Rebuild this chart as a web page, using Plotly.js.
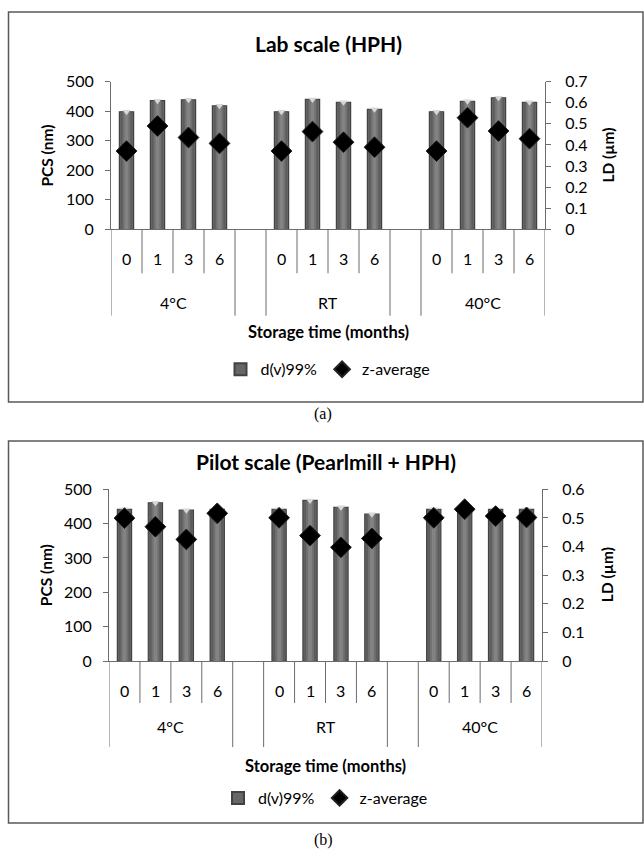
<!DOCTYPE html>
<html>
<head>
<meta charset="utf-8">
<script src="https://cdn.plot.ly/plotly-3.0.1.min.js"></script>
<style>
html,body{margin:0;padding:0;background:#fff;}
#chart{width:644px;height:852px;}
</style>
</head>
<body>
<div id="chart"></div>
<script>
// ---------- data ----------
const groups = ['4°C', 'RT', '40°C'];
const months = ['0', '1', '3', '6'];

// Panel (a) Lab scale (HPH)
const titleA = 'Lab scale (HPH)';
const ldA = [0.557, 0.610, 0.614, 0.586,   0.557, 0.616, 0.602, 0.569,   0.557, 0.607, 0.624, 0.602]; // d(v)99% (µm)
const pcsA = [265, 350, 311, 291,   265, 331, 295, 278,   265, 378, 333, 307];                   // z-average (nm)

// Panel (b) Pilot scale (Pearlmill + HPH)
const titleB = 'Pilot scale (Pearlmill + HPH)';
const ldB = [0.530, 0.553, 0.527, 0.530,   0.530, 0.561, 0.537, 0.513,   0.530, 0.530, 0.530, 0.530];
const pcsB = [416, 391, 354, 430,   417, 365, 331, 357,   417, 442, 422, 418];

const seriesNames = ['d(v)99%', 'z-average'];
const xTitle = 'Storage time (months)';
const yLeftTitle = 'PCS (nm)';
const yRightTitle = 'LD (µm)';

// ---------- helpers ----------
const W = 644, H = 852;
const px = p => p / W;
const py = p => 1 - p / H;
const slot = months.length + 1;                    // one blank category between groups
const nCat = groups.length * slot - 1;
const xs = [];
groups.forEach((g, gi) => months.forEach((m, mi) => xs.push(gi * slot + mi + 0.5)));

const FONT = 'Lato, "Open Sans", sans-serif';
const AXC = '#6b6b6b';
const TXT = 16;

const panels = [
  {title: titleA, ld: ldA, pcs: pcsA, ldMax: 0.7, ldDtick: 0.1,
   x0: 111, x1: 545, yTop: 81.7, yBot: 229.3, titleY: 44,
   mOff: 29, shortOff: 44, gOff: 72.7, longOff: 86.4, stOff: 102.7, lgOff: 140,
   frame: [8.5, 12, 643, 402], cap: '(a)', capY: 414},
  {title: titleB, ld: ldB, pcs: pcsB, ldMax: 0.6, ldDtick: 0.1,
   x0: 109, x1: 542, yTop: 489.3, yBot: 661, titleY: 461,
   mOff: 29, shortOff: 42, gOff: 65, longOff: 86, stOff: 105, lgOff: 137,
   frame: [8.5, 441, 643, 823], cap: '(b)', capY: 840}
];

const data = [];
const layout = {
  width: W, height: H,
  margin: {l: 0, r: 0, t: 0, b: 0},
  paper_bgcolor: '#fff', plot_bgcolor: 'rgba(0,0,0,0)',
  barmode: 'overlay',
  showlegend: true,
  font: {family: FONT, size: TXT, color: '#000'},
  annotations: [], shapes: []
};

panels.forEach((P, i) => {
  const k = i === 0 ? '' : '2';
  const yBase = i === 0 ? 'y' : 'y3';
  const yOver = i === 0 ? 'y2' : 'y4';
  const xName = 'x' + k;
  const legName = i === 0 ? 'legend' : 'legend2';
  const xDom = [px(P.x0), px(P.x1)];
  const yDom = [py(P.yBot), py(P.yTop)];

  layout['xaxis' + k] = {
    domain: xDom, range: [0, nCat], anchor: yBase,
    showline: true, linecolor: AXC, linewidth: 1,
    showgrid: false, zeroline: false, showticklabels: false, ticks: '', fixedrange: true
  };
  layout[yBase === 'y' ? 'yaxis' : 'yaxis3'] = {
    domain: yDom, range: [0, P.ldMax], dtick: P.ldDtick, anchor: xName, side: 'right',
    showline: true, linecolor: AXC, linewidth: 1, ticks: 'outside', ticklen: 5, tickcolor: AXC,
    showgrid: false, zeroline: false, ticklabelstandoff: 11,
    tickfont: {family: FONT, size: TXT, color: '#000'}, fixedrange: true
  };
  layout[yOver === 'y2' ? 'yaxis2' : 'yaxis4'] = {
    domain: yDom, range: [0, 500], dtick: 100, anchor: xName, side: 'left', overlaying: yBase,
    showline: true, linecolor: AXC, linewidth: 1, ticks: 'outside', ticklen: 5, tickcolor: AXC,
    showgrid: false, zeroline: false, ticklabelstandoff: 8,
    tickfont: {family: FONT, size: TXT, color: '#000'}, fixedrange: true
  };

  // bars (stepped shading to mimic the cylinder gradient)
  const layers = [
    {w: 0.46, c: '#4a4a4a'}, {w: 0.36, c: '#5c5c5c'}, {w: 0.25, c: '#717171'}, {w: 0.12, c: '#838383'}
  ];
  layers.forEach((L, li) => {
    data.push({
      type: 'bar', x: xs, y: P.ld, xaxis: xName, yaxis: yBase,
      width: L.w, name: seriesNames[0], legend: legName,
      showlegend: li === 0, legendgroup: 'bar' + i,
      marker: {color: li === 0 ? '#666666' : L.c, line: {width: li === 0 ? 1.2 : 0, color: '#424242'}},
      hoverinfo: 'skip'
    });
  });
  // top highlight of bars
  data.push({
    type: 'scatter', mode: 'markers', x: xs, y: P.ld, xaxis: xName, yaxis: yBase,
    showlegend: false, hoverinfo: 'skip',
    marker: {symbol: 'triangle-down', size: 7, color: '#d8d8d8', line: {width: 0}}
  });
  data.push({
    type: 'scatter', mode: 'markers', x: xs, y: P.pcs, xaxis: xName, yaxis: yOver,
    name: seriesNames[1], legend: legName,
    marker: {symbol: 'diamond', size: 16, color: '#000', line: {width: 1, color: '#222'}}
  });

  layout[legName] = {
    orientation: 'h', x: px((P.x0 + P.x1) / 2), xanchor: 'center',
    y: py(P.yBot + P.lgOff), yanchor: 'middle',
    font: {family: FONT, size: 16, color: '#000'},
    bgcolor: 'rgba(0,0,0,0)', itemsizing: 'constant', itemwidth: 30, traceorder: 'normal'
  };

  // month labels and group labels (category axis levels)
  groups.forEach((g, gi) => {
    months.forEach((m, mi) => {
      layout.annotations.push({
        xref: xName, yref: 'paper', x: gi * slot + mi + 0.5, y: py(P.yBot + P.mOff),
        text: m, showarrow: false, xanchor: 'center', yanchor: 'middle',
        font: {family: FONT, size: TXT, color: '#000'}
      });
    });
    layout.annotations.push({
      xref: xName, yref: 'paper', x: gi * slot + months.length / 2, y: py(P.yBot + P.gOff),
      text: g, showarrow: false, xanchor: 'center', yanchor: 'middle',
      font: {family: FONT, size: TXT, color: '#000'}
    });
    // divider lines
    const s = gi * slot;
    [s, s + months.length].forEach(b => layout.shapes.push({
      type: 'line', xref: xName, yref: 'paper', x0: b, x1: b,
      y0: py(P.yBot), y1: py(P.yBot + P.longOff), line: {color: AXC, width: 1}
    }));
    for (let mi = 1; mi < months.length; mi++) {
      layout.shapes.push({
        type: 'line', xref: xName, yref: 'paper', x0: s + mi, x1: s + mi,
        y0: py(P.yBot), y1: py(P.yBot + P.shortOff), line: {color: AXC, width: 1}
      });
    }
  });

  // titles
  layout.annotations.push({
    xref: 'paper', yref: 'paper', x: px((P.x0 + P.x1) / 2), y: py(P.titleY),
    text: '<b>' + P.title + '</b>', showarrow: false, xanchor: 'center', yanchor: 'middle',
    font: {family: FONT, size: 21, color: '#000'}
  });
  layout.annotations.push({
    xref: 'paper', yref: 'paper', x: px((P.x0 + P.x1) / 2), y: py(P.yBot + P.stOff),
    text: '<b>' + xTitle + '</b>', showarrow: false, xanchor: 'center', yanchor: 'middle',
    font: {family: FONT, size: 16.5, color: '#000'}
  });
  layout.annotations.push({
    xref: 'paper', yref: 'paper', x: px(46), y: py((P.yTop + P.yBot) / 2),
    text: '<b>' + yLeftTitle + '</b>', showarrow: false, textangle: -90,
    xanchor: 'center', yanchor: 'middle', font: {family: FONT, size: 15.5, color: '#000'}
  });
  layout.annotations.push({
    xref: 'paper', yref: 'paper', x: px(607), y: py((P.yTop + P.yBot) / 2),
    text: '<b>' + yRightTitle + '</b>', showarrow: false, textangle: -90,
    xanchor: 'center', yanchor: 'middle', font: {family: FONT, size: 15.5, color: '#000'}
  });
  layout.annotations.push({
    xref: 'paper', yref: 'paper', x: px(323), y: py(P.capY),
    text: P.cap, showarrow: false, xanchor: 'center', yanchor: 'middle',
    font: {family: '"Liberation Serif", "DejaVu Serif", serif', size: 16, color: '#000'}
  });
  // chart frame
  const f = P.frame;
  layout.shapes.push({
    type: 'rect', xref: 'paper', yref: 'paper',
    x0: px(f[0]), x1: px(f[2]), y0: py(f[3]), y1: py(f[1]),
    line: {color: '#5a5a5a', width: 1.5}, fillcolor: 'rgba(0,0,0,0)', layer: 'below'
  });
});

Plotly.newPlot('chart', data, layout, {staticPlot: true, displayModeBar: false});
</script>
</body>
</html>
